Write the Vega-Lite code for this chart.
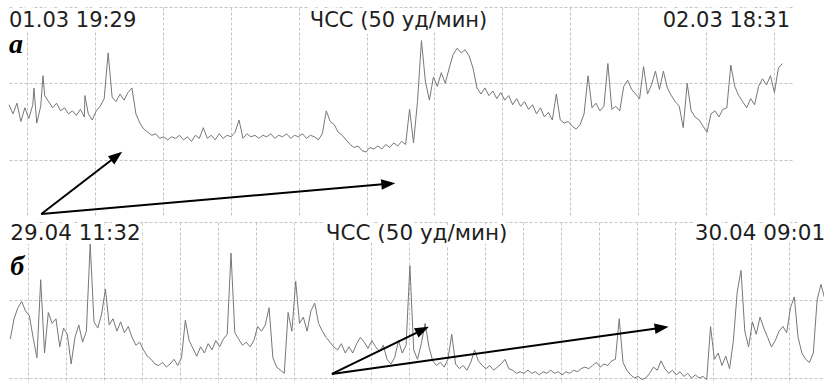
{
 "$schema": "https://vega.github.io/schema/vega-lite/v6.json",
 "padding": {"left": 7, "top": 7, "right": 0, "bottom": 0},
 "background": "white",
 "spacing": 7,
 "config": {"view": {"stroke": null}, "axis": {"domain": false, "ticks": false, "labels": false, "grid": true, "gridColor": "#c4c4c4", "gridDash": [3, 2], "gridWidth": 1}},
 "datasets": {
  "one": [{}],
  "a": [{"m":0,"v":86},{"m":7,"v":80},{"m":14,"v":87},{"m":21,"v":75},{"m":28,"v":84},{"m":35,"v":77},{"m":42,"v":86},{"m":44,"v":97},{"m":49,"v":74},{"m":56,"v":85},{"m":60,"v":105},{"m":63,"v":92},{"m":70,"v":88},{"m":77,"v":84},{"m":84,"v":87},{"m":91,"v":82},{"m":98,"v":84},{"m":105,"v":80},{"m":112,"v":82},{"m":119,"v":79},{"m":126,"v":83},{"m":133,"v":78},{"m":134,"v":92},{"m":140,"v":80},{"m":147,"v":76},{"m":154,"v":82},{"m":161,"v":85},{"m":168,"v":90},{"m":175,"v":120},{"m":182,"v":91},{"m":189,"v":88},{"m":196,"v":93},{"m":203,"v":89},{"m":210,"v":94},{"m":217,"v":97},{"m":224,"v":80},{"m":231,"v":74},{"m":238,"v":70},{"m":245,"v":68},{"m":252,"v":66},{"m":259,"v":67},{"m":266,"v":64},{"m":273,"v":65},{"m":280,"v":63},{"m":287,"v":65},{"m":294,"v":64},{"m":301,"v":66},{"m":308,"v":63},{"m":315,"v":65},{"m":322,"v":62},{"m":329,"v":66},{"m":336,"v":64},{"m":343,"v":71},{"m":350,"v":64},{"m":357,"v":66},{"m":364,"v":63},{"m":371,"v":67},{"m":378,"v":64},{"m":385,"v":66},{"m":392,"v":65},{"m":399,"v":68},{"m":406,"v":76},{"m":413,"v":64},{"m":420,"v":67},{"m":427,"v":65},{"m":434,"v":66},{"m":441,"v":64},{"m":448,"v":66},{"m":455,"v":65},{"m":462,"v":67},{"m":469,"v":64},{"m":476,"v":66},{"m":483,"v":65},{"m":490,"v":67},{"m":497,"v":64},{"m":504,"v":66},{"m":511,"v":65},{"m":518,"v":67},{"m":525,"v":64},{"m":532,"v":66},{"m":539,"v":65},{"m":546,"v":63},{"m":553,"v":67},{"m":560,"v":82},{"m":567,"v":75},{"m":574,"v":73},{"m":581,"v":68},{"m":588,"v":66},{"m":595,"v":63},{"m":602,"v":60},{"m":609,"v":58},{"m":616,"v":59},{"m":623,"v":56},{"m":630,"v":55},{"m":637,"v":58},{"m":644,"v":57},{"m":651,"v":59},{"m":658,"v":57},{"m":665,"v":60},{"m":672,"v":58},{"m":679,"v":61},{"m":686,"v":59},{"m":693,"v":62},{"m":700,"v":60},{"m":707,"v":83},{"m":714,"v":61},{"m":721,"v":88},{"m":728,"v":128},{"m":735,"v":101},{"m":742,"v":89},{"m":749,"v":104},{"m":756,"v":98},{"m":763,"v":107},{"m":770,"v":100},{"m":777,"v":110},{"m":784,"v":119},{"m":791,"v":123},{"m":798,"v":120},{"m":805,"v":122},{"m":812,"v":118},{"m":819,"v":110},{"m":826,"v":97},{"m":833,"v":93},{"m":840,"v":97},{"m":847,"v":92},{"m":854,"v":95},{"m":861,"v":90},{"m":868,"v":94},{"m":875,"v":89},{"m":882,"v":92},{"m":889,"v":86},{"m":896,"v":90},{"m":903,"v":85},{"m":910,"v":88},{"m":917,"v":83},{"m":924,"v":86},{"m":931,"v":80},{"m":938,"v":84},{"m":945,"v":78},{"m":952,"v":81},{"m":959,"v":76},{"m":966,"v":93},{"m":973,"v":76},{"m":980,"v":74},{"m":987,"v":75},{"m":994,"v":72},{"m":1001,"v":70},{"m":1008,"v":73},{"m":1015,"v":80},{"m":1022,"v":105},{"m":1029,"v":84},{"m":1036,"v":87},{"m":1043,"v":82},{"m":1050,"v":85},{"m":1057,"v":113},{"m":1064,"v":83},{"m":1071,"v":85},{"m":1078,"v":82},{"m":1085,"v":98},{"m":1092,"v":102},{"m":1099,"v":96},{"m":1106,"v":93},{"m":1113,"v":90},{"m":1120,"v":111},{"m":1127,"v":93},{"m":1134,"v":99},{"m":1141,"v":108},{"m":1148,"v":96},{"m":1155,"v":108},{"m":1162,"v":97},{"m":1169,"v":92},{"m":1176,"v":88},{"m":1183,"v":85},{"m":1190,"v":71},{"m":1197,"v":100},{"m":1204,"v":82},{"m":1211,"v":78},{"m":1218,"v":76},{"m":1225,"v":72},{"m":1232,"v":68},{"m":1239,"v":80},{"m":1246,"v":82},{"m":1253,"v":78},{"m":1260,"v":83},{"m":1267,"v":84},{"m":1274,"v":112},{"m":1281,"v":98},{"m":1288,"v":92},{"m":1295,"v":88},{"m":1302,"v":84},{"m":1309,"v":90},{"m":1316,"v":86},{"m":1323,"v":98},{"m":1330,"v":103},{"m":1337,"v":99},{"m":1344,"v":105},{"m":1351,"v":94},{"m":1358,"v":110},{"m":1365,"v":113}],
  "b": [{"m":0,"v":75},{"m":6,"v":88},{"m":12,"v":95},{"m":18,"v":99},{"m":24,"v":93},{"m":30,"v":90},{"m":36,"v":76},{"m":42,"v":63},{"m":48,"v":113},{"m":54,"v":66},{"m":60,"v":92},{"m":66,"v":85},{"m":72,"v":88},{"m":78,"v":70},{"m":84,"v":82},{"m":90,"v":78},{"m":96,"v":59},{"m":102,"v":76},{"m":108,"v":84},{"m":114,"v":73},{"m":120,"v":80},{"m":126,"v":136},{"m":132,"v":86},{"m":138,"v":82},{"m":144,"v":91},{"m":150,"v":107},{"m":156,"v":84},{"m":162,"v":88},{"m":168,"v":80},{"m":174,"v":86},{"m":180,"v":79},{"m":186,"v":83},{"m":192,"v":76},{"m":198,"v":71},{"m":204,"v":73},{"m":210,"v":68},{"m":216,"v":64},{"m":222,"v":62},{"m":228,"v":59},{"m":234,"v":58},{"m":240,"v":60},{"m":246,"v":57},{"m":252,"v":59},{"m":258,"v":62},{"m":264,"v":58},{"m":270,"v":63},{"m":276,"v":87},{"m":282,"v":74},{"m":288,"v":69},{"m":294,"v":64},{"m":300,"v":70},{"m":306,"v":66},{"m":312,"v":72},{"m":318,"v":68},{"m":324,"v":74},{"m":330,"v":70},{"m":336,"v":75},{"m":342,"v":78},{"m":348,"v":130},{"m":354,"v":79},{"m":360,"v":75},{"m":366,"v":71},{"m":372,"v":73},{"m":378,"v":70},{"m":384,"v":74},{"m":390,"v":83},{"m":396,"v":80},{"m":402,"v":84},{"m":408,"v":95},{"m":414,"v":63},{"m":420,"v":57},{"m":426,"v":55},{"m":432,"v":53},{"m":438,"v":92},{"m":444,"v":80},{"m":450,"v":112},{"m":456,"v":85},{"m":462,"v":89},{"m":468,"v":80},{"m":474,"v":93},{"m":480,"v":98},{"m":486,"v":85},{"m":492,"v":80},{"m":498,"v":76},{"m":504,"v":73},{"m":510,"v":70},{"m":516,"v":68},{"m":522,"v":72},{"m":528,"v":66},{"m":534,"v":70},{"m":540,"v":66},{"m":546,"v":72},{"m":552,"v":76},{"m":558,"v":73},{"m":564,"v":69},{"m":570,"v":74},{"m":576,"v":70},{"m":582,"v":67},{"m":588,"v":71},{"m":594,"v":62},{"m":600,"v":59},{"m":606,"v":63},{"m":612,"v":74},{"m":618,"v":66},{"m":624,"v":71},{"m":630,"v":122},{"m":636,"v":68},{"m":642,"v":62},{"m":648,"v":72},{"m":654,"v":85},{"m":660,"v":70},{"m":666,"v":61},{"m":672,"v":58},{"m":678,"v":60},{"m":684,"v":57},{"m":690,"v":62},{"m":696,"v":78},{"m":702,"v":59},{"m":708,"v":56},{"m":714,"v":58},{"m":720,"v":55},{"m":726,"v":60},{"m":732,"v":68},{"m":738,"v":61},{"m":744,"v":58},{"m":750,"v":56},{"m":756,"v":58},{"m":762,"v":55},{"m":768,"v":57},{"m":774,"v":59},{"m":780,"v":62},{"m":786,"v":56},{"m":792,"v":55},{"m":798,"v":53},{"m":804,"v":54},{"m":810,"v":53},{"m":816,"v":55},{"m":822,"v":53},{"m":828,"v":54},{"m":834,"v":52},{"m":840,"v":54},{"m":846,"v":53},{"m":852,"v":55},{"m":858,"v":53},{"m":864,"v":54},{"m":870,"v":52},{"m":876,"v":54},{"m":882,"v":53},{"m":888,"v":55},{"m":894,"v":54},{"m":900,"v":56},{"m":906,"v":57},{"m":912,"v":56},{"m":918,"v":58},{"m":924,"v":60},{"m":930,"v":57},{"m":936,"v":59},{"m":942,"v":58},{"m":948,"v":61},{"m":954,"v":62},{"m":960,"v":88},{"m":966,"v":60},{"m":972,"v":55},{"m":978,"v":52},{"m":984,"v":50},{"m":990,"v":51},{"m":996,"v":49},{"m":1002,"v":50},{"m":1008,"v":53},{"m":1014,"v":57},{"m":1020,"v":55},{"m":1026,"v":61},{"m":1032,"v":56},{"m":1038,"v":53},{"m":1044,"v":55},{"m":1050,"v":52},{"m":1056,"v":54},{"m":1062,"v":51},{"m":1068,"v":53},{"m":1074,"v":50},{"m":1080,"v":52},{"m":1086,"v":50},{"m":1092,"v":51},{"m":1098,"v":49},{"m":1104,"v":83},{"m":1110,"v":62},{"m":1116,"v":66},{"m":1122,"v":58},{"m":1128,"v":64},{"m":1134,"v":56},{"m":1140,"v":74},{"m":1146,"v":105},{"m":1152,"v":119},{"m":1158,"v":80},{"m":1164,"v":70},{"m":1170,"v":86},{"m":1176,"v":78},{"m":1182,"v":89},{"m":1188,"v":82},{"m":1194,"v":76},{"m":1200,"v":70},{"m":1206,"v":74},{"m":1212,"v":80},{"m":1218,"v":83},{"m":1224,"v":79},{"m":1230,"v":95},{"m":1236,"v":102},{"m":1242,"v":76},{"m":1248,"v":66},{"m":1254,"v":62},{"m":1260,"v":60},{"m":1266,"v":66},{"m":1272,"v":100},{"m":1278,"v":110},{"m":1284,"v":101}],
  "arrA": [{"id":1,"m":57,"v":14.5,"m2":190,"v2":52.4},{"id":2,"m":57,"v":14.5,"m2":669.5,"v2":34.2}],
  "arrB": [{"id":1,"m":507,"v":52.6,"m2":650,"v2":80.9},{"id":2,"m":507,"v":52.6,"m2":1027,"v2":82.2}]
 },
 "vconcat": [
  {
   "width": 783, "height": 208,
   "layer": [
    {"data": {"name": "a"}, "mark": {"type": "line", "color": "#777777", "strokeWidth": 1},
     "encoding": {
      "x": {"field": "m", "type": "quantitative", "scale": {"domain": [0, 1382], "nice": false, "zero": false}, "axis": {"title": null, "values": [31,91,151,211,271,331,391,451,511,571,631,691,751,811,871,931,991,1051,1111,1171,1231,1291,1351]}},
      "y": {"field": "v", "type": "quantitative", "scale": {"domain": [13.8, 150], "nice": false, "zero": false}, "axis": {"title": null, "values": [50, 100, 150]}}}},
    {"data": {"name": "arrA"}, "mark": {"type": "rule", "color": "black", "strokeWidth": 2},
     "encoding": {"x": {"field": "m", "type": "quantitative"}, "y": {"field": "v", "type": "quantitative"}, "x2": {"field": "m2"}, "y2": {"field": "v2"}}},
    {"data": {"name": "arrA"}, "transform": [{"filter": "datum.id == 1"}], "mark": {"type": "point", "shape": "M1,0L-1,-0.75L-1,0.75Z", "filled": true, "color": "black", "opacity": 1, "size": 196, "angle": -37.7},
     "encoding": {"x": {"field": "m2", "type": "quantitative"}, "y": {"field": "v2", "type": "quantitative"}}},
    {"data": {"name": "arrA"}, "transform": [{"filter": "datum.id == 2"}], "mark": {"type": "point", "shape": "M1,0L-1,-0.75L-1,0.75Z", "filled": true, "color": "black", "opacity": 1, "size": 196, "angle": -5},
     "encoding": {"x": {"field": "m2", "type": "quantitative"}, "y": {"field": "v2", "type": "quantitative"}}},
    {"data": {"name": "one"}, "mark": {"type": "text", "text": "01.03 19:29", "align": "left", "baseline": "alphabetic", "font": "DejaVu Sans", "fontSize": 21, "fill": "white", "stroke": "white", "strokeWidth": 8, "strokeJoin": "round"},
     "encoding": {"x": {"datum": 0, "type": "quantitative"}, "y": {"datum": 137, "type": "quantitative"}}},
    {"data": {"name": "one"}, "mark": {"type": "text", "text": "01.03 19:29", "align": "left", "baseline": "alphabetic", "font": "DejaVu Sans", "fontSize": 21, "color": "#1e1e1e"},
     "encoding": {"x": {"datum": 0, "type": "quantitative"}, "y": {"datum": 137, "type": "quantitative"}}},
    {"data": {"name": "one"}, "mark": {"type": "text", "text": "ЧСС (50 уд/мин)", "align": "center", "baseline": "alphabetic", "font": "DejaVu Sans", "fontSize": 21, "fill": "white", "stroke": "white", "strokeWidth": 8, "strokeJoin": "round"},
     "encoding": {"x": {"datum": 687.5, "type": "quantitative"}, "y": {"datum": 137, "type": "quantitative"}}},
    {"data": {"name": "one"}, "mark": {"type": "text", "text": "ЧСС (50 уд/мин)", "align": "center", "baseline": "alphabetic", "font": "DejaVu Sans", "fontSize": 21, "color": "#1e1e1e"},
     "encoding": {"x": {"datum": 687.5, "type": "quantitative"}, "y": {"datum": 137, "type": "quantitative"}}},
    {"data": {"name": "one"}, "mark": {"type": "text", "text": "02.03 18:31", "align": "right", "baseline": "alphabetic", "font": "DejaVu Sans", "fontSize": 21, "fill": "white", "stroke": "white", "strokeWidth": 8, "strokeJoin": "round"},
     "encoding": {"x": {"datum": 1378.5, "type": "quantitative"}, "y": {"datum": 137, "type": "quantitative"}}},
    {"data": {"name": "one"}, "mark": {"type": "text", "text": "02.03 18:31", "align": "right", "baseline": "alphabetic", "font": "DejaVu Sans", "fontSize": 21, "color": "#1e1e1e"},
     "encoding": {"x": {"datum": 1378.5, "type": "quantitative"}, "y": {"datum": 137, "type": "quantitative"}}},
    {"data": {"name": "one"}, "mark": {"type": "text", "text": "а", "align": "left", "baseline": "alphabetic", "font": "Liberation Serif", "fontSize": 28, "fontStyle": "italic", "fontWeight": "bold", "color": "black"},
     "encoding": {"x": {"datum": 0, "type": "quantitative"}, "y": {"datum": 120, "type": "quantitative"}}}
   ]
  },
  {
   "width": 817, "height": 161,
   "layer": [
    {"data": {"name": "b"}, "mark": {"type": "line", "color": "#777777", "strokeWidth": 1},
     "encoding": {
      "x": {"field": "m", "type": "quantitative", "scale": {"domain": [-2, 1286], "nice": false, "zero": false}, "axis": {"title": null, "values": [28,88,148,208,268,328,388,448,508,568,628,688,748,808,868,928,988,1048,1108,1168,1228]}},
      "y": {"field": "v", "type": "quantitative", "scale": {"domain": [46.8, 150], "nice": false, "zero": false}, "axis": {"title": null, "values": [50, 100, 150]}}}},
    {"data": {"name": "arrB"}, "mark": {"type": "rule", "color": "black", "strokeWidth": 2},
     "encoding": {"x": {"field": "m", "type": "quantitative"}, "y": {"field": "v", "type": "quantitative"}, "x2": {"field": "m2"}, "y2": {"field": "v2"}}},
    {"data": {"name": "arrB"}, "transform": [{"filter": "datum.id == 1"}], "mark": {"type": "point", "shape": "M1,0L-1,-0.75L-1,0.75Z", "filled": true, "color": "black", "opacity": 1, "size": 196, "angle": -26.1},
     "encoding": {"x": {"field": "m2", "type": "quantitative"}, "y": {"field": "v2", "type": "quantitative"}}},
    {"data": {"name": "arrB"}, "transform": [{"filter": "datum.id == 2"}], "mark": {"type": "point", "shape": "M1,0L-1,-0.75L-1,0.75Z", "filled": true, "color": "black", "opacity": 1, "size": 196, "angle": -8},
     "encoding": {"x": {"field": "m2", "type": "quantitative"}, "y": {"field": "v2", "type": "quantitative"}}},
    {"data": {"name": "one"}, "mark": {"type": "text", "text": "29.04 11:32", "align": "left", "baseline": "alphabetic", "font": "DejaVu Sans", "fontSize": 21.5, "fill": "white", "stroke": "white", "strokeWidth": 8, "strokeJoin": "round"},
     "encoding": {"x": {"datum": 0, "type": "quantitative"}, "y": {"datum": 138.5, "type": "quantitative"}}},
    {"data": {"name": "one"}, "mark": {"type": "text", "text": "29.04 11:32", "align": "left", "baseline": "alphabetic", "font": "DejaVu Sans", "fontSize": 21.5, "color": "#1e1e1e"},
     "encoding": {"x": {"datum": 0, "type": "quantitative"}, "y": {"datum": 138.5, "type": "quantitative"}}},
    {"data": {"name": "one"}, "mark": {"type": "text", "text": "ЧСС (50 уд/мин)", "align": "center", "baseline": "alphabetic", "font": "DejaVu Sans", "fontSize": 21.5, "fill": "white", "stroke": "white", "strokeWidth": 8, "strokeJoin": "round"},
     "encoding": {"x": {"datum": 640.5, "type": "quantitative"}, "y": {"datum": 138.5, "type": "quantitative"}}},
    {"data": {"name": "one"}, "mark": {"type": "text", "text": "ЧСС (50 уд/мин)", "align": "center", "baseline": "alphabetic", "font": "DejaVu Sans", "fontSize": 21.5, "color": "#1e1e1e"},
     "encoding": {"x": {"datum": 640.5, "type": "quantitative"}, "y": {"datum": 138.5, "type": "quantitative"}}},
    {"data": {"name": "one"}, "mark": {"type": "text", "text": "30.04 09:01", "align": "right", "baseline": "alphabetic", "font": "DejaVu Sans", "fontSize": 21.5, "fill": "white", "stroke": "white", "strokeWidth": 8, "strokeJoin": "round"},
     "encoding": {"x": {"datum": 1284.7, "type": "quantitative"}, "y": {"datum": 138.5, "type": "quantitative"}}},
    {"data": {"name": "one"}, "mark": {"type": "text", "text": "30.04 09:01", "align": "right", "baseline": "alphabetic", "font": "DejaVu Sans", "fontSize": 21.5, "color": "#1e1e1e"},
     "encoding": {"x": {"datum": 1284.7, "type": "quantitative"}, "y": {"datum": 138.5, "type": "quantitative"}}},
    {"data": {"name": "one"}, "mark": {"type": "text", "text": "б", "align": "left", "baseline": "alphabetic", "font": "Liberation Serif", "fontSize": 28, "fontStyle": "italic", "fontWeight": "bold", "color": "black"},
     "encoding": {"x": {"datum": 0, "type": "quantitative"}, "y": {"datum": 116, "type": "quantitative"}}}
   ]
  }
 ]
}
